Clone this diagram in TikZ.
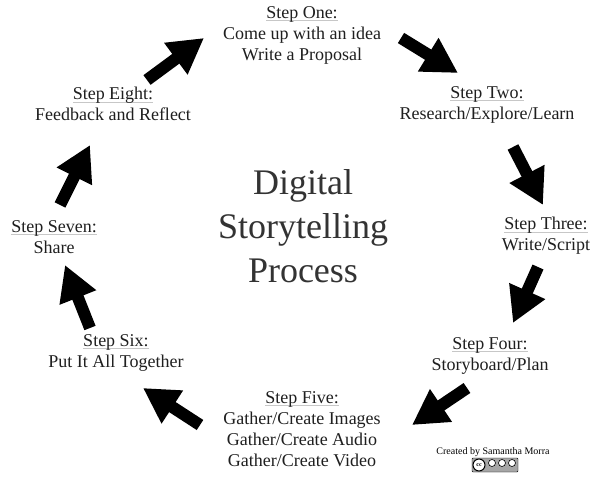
\documentclass[tikz,border=0pt]{standalone}
\usepackage{fontspec}
\setmainfont{Liberation Serif}
\usetikzlibrary{arrows.meta}
\newlength\shw
\newcommand\sh[1]{\settowidth\shw{#1}\rlap{\textcolor{black!22}{\rule[-2.5pt]{\shw}{0.5pt}}}#1}
\begin{document}
\begin{tikzpicture}[x=1pt,y=-1pt,
  steptext/.style={align=center,font=\fontsize{18}{21}\selectfont,inner sep=0pt,text=black!88},
  titletext/.style={align=center,font=\fontsize{36}{44}\selectfont,inner sep=0pt,text=black!80},
  bigarrow/.style={line width=12pt,-{Triangle[length=35pt,width=37pt]}}]
\useasboundingbox[fill=white] (0,0) rectangle (600,478);
% steps
\node[steptext] (s1) at (302,35) {\sh{Step One:}\\Come up with an idea\\Write a Proposal};
\node[steptext] (s2) at (487,104.5) {\sh{Step Two:}\\Research/Explore/Learn};
\node[steptext] (s3) at (546,236) {\sh{Step Three:}\\Write/Script};
\node[steptext] (s4) at (490,355.5) {\sh{Step Four:}\\Storyboard/Plan};
\node[steptext] (s5) at (302,429) {\sh{Step Five:}\\Gather/Create Images\\Gather/Create Audio\\Gather/Create Video};
\node[steptext] (s6) at (116,352.5) {\sh{Step Six:}\\Put It All Together};
\node[steptext] (s7) at (54,237) {\sh{Step Seven:}\\Share};
\node[steptext] (s8) at (113,104) {\sh{Step Eight:}\\Feedback and Reflect};
% title
\node[titletext] (title) at (303,226) {Digital\\Storytelling\\Process};
% arrow end points
\coordinate (a1t) at (147,80);  \coordinate (a1h) at (204,38);
\coordinate (a2t) at (401,38);  \coordinate (a2h) at (458,73);
\coordinate (a3t) at (513,147); \coordinate (a3h) at (543,205);
\coordinate (a4t) at (538,267); \coordinate (a4h) at (513,323);
\coordinate (a5t) at (467,388); \coordinate (a5h) at (412,425);
\coordinate (a6t) at (200,425); \coordinate (a6h) at (143,388);
\coordinate (a7t) at (90,328);  \coordinate (a7h) at (65,265);
\coordinate (a8t) at (60,205);  \coordinate (a8h) at (90,145);
\foreach \i in {1,...,8} \draw[bigarrow] (a\i t) -- (a\i h);
% credit
\node[inner sep=0pt,font=\fontsize{10}{12}\selectfont] (credit) at (493,452) {Created by Samantha Morra};
\node[draw=black,fill=black!35,rounded corners=1pt,minimum width=46pt,minimum height=14pt,inner sep=0pt] (cc) at (495,465) {};
\node[circle,draw=black,fill=white,line width=1pt,minimum size=12pt,inner sep=0pt,font=\fontsize{6}{6}\selectfont\bfseries] (ccl) at (479,465) {cc};
\foreach \xx [count=\k] in {492,502,512} \node[circle,draw=black,fill=white,line width=0.6pt,minimum size=7pt,inner sep=0pt] (ccs\k) at (\xx,463) {};
\end{tikzpicture}
\end{document}
